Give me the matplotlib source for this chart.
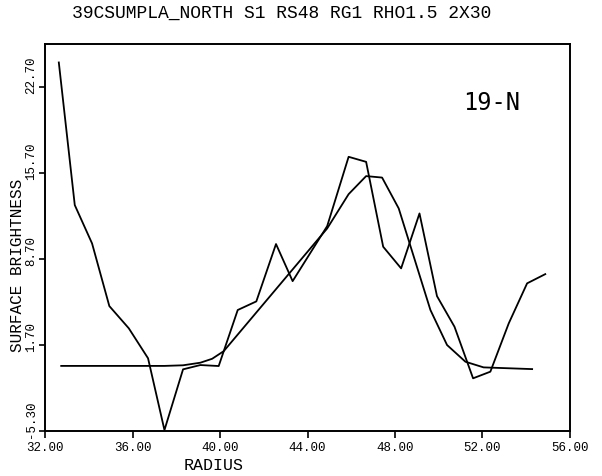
import matplotlib.pyplot as plt
from matplotlib.transforms import ScaledTranslation

# observed profile (jagged line)
radius = [32.63, 33.36, 34.15, 34.94, 35.83, 36.71, 37.46, 38.31, 39.10, 39.94,
          40.81, 41.66, 42.56, 43.32, 44.11, 44.90, 45.88, 46.68, 47.46, 48.28,
          49.12, 49.92, 50.72, 51.57, 52.36, 53.20, 54.04, 54.87]
brightness = [24.7, 13.09, 9.97, 4.87, 3.06, 0.62, -5.22, -0.28, 0.07, -0.01,
              4.55, 5.25, 9.92, 6.90, 9.14, 11.38, 17.02, 16.61, 9.70, 7.94,
              12.41, 5.68, 3.19, -1.01, -0.47, 3.46, 6.72, 7.47]

# fitted model (smooth line)
model_r = [32.74, 37.46, 38.31, 39.10, 39.64, 40.17, 44.90, 45.88, 46.68, 47.41,
           48.17, 49.62, 50.38, 51.22, 52.05, 54.27]
model_sb = [0.0, 0.0, 0.05, 0.26, 0.58, 1.20, 11.19, 13.98, 15.45, 15.33,
            12.82, 4.55, 1.70, 0.34, -0.12, -0.26]

xticks = [32, 36, 40, 44, 48, 52, 56]
yticks = [-5.3, 1.7, 8.7, 15.7, 22.7]

mono = 'Liberation Mono'

fig = plt.figure(figsize=(6.02, 4.76), dpi=100)
ax = fig.add_axes([0.0748, 0.0945, 0.872, 0.813])

ax.plot(radius, brightness, color='black', lw=1.3)
ax.plot(model_r, model_sb, color='black', lw=1.3)

ax.set_xlim(32, 56)
ax.set_ylim(-5.3, 26.2)
ax.set_xticks(xticks)
ax.set_xticklabels(['%.2f' % v for v in xticks], family=mono, fontsize=9)
ax.set_yticks(yticks)
ax.set_yticklabels(['%.2f' % v for v in yticks], family=mono, fontsize=9,
                   rotation=90, va='bottom')
ax.tick_params(axis='x', direction='out', length=5, width=1.2, pad=3)
ax.tick_params(axis='y', direction='out', length=4, width=1.2, pad=1.5)
# labels on the y axis sit a little lower in the scan
shift = ScaledTranslation(0, -5 / 72, fig.dpi_scale_trans)
for lbl in ax.get_yticklabels():
    lbl.set_transform(lbl.get_transform() + shift)
for s in ax.spines.values():
    s.set_linewidth(1.4)

fig.text(0.467, 0.971, '39CSUMPLA_NORTH S1 RS48 RG1 RHO1.5 2X30',
         family=mono, fontsize=13, ha='center', va='center')
fig.text(0.355, 0.023, 'RADIUS', family=mono, fontsize=12,
         ha='center', va='center')
fig.text(0.029, 0.443, 'SURFACE BRIGHTNESS', family=mono, fontsize=11.5,
         rotation=90, ha='center', va='center')
fig.text(0.817, 0.784, '19-N', family='DejaVu Sans Mono', fontsize=17,
         ha='center', va='center')

fig.savefig('out.png', dpi=100)
